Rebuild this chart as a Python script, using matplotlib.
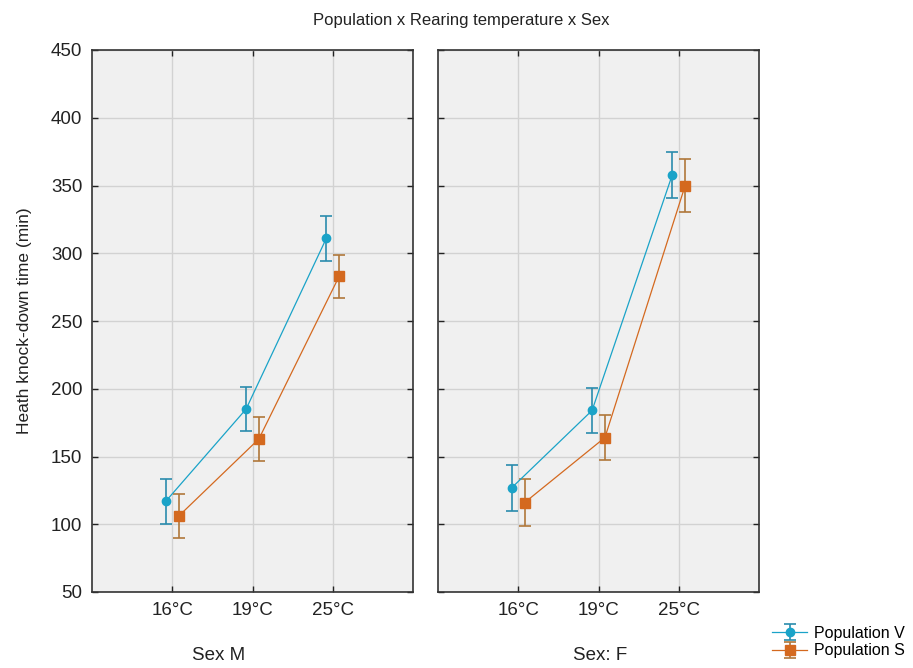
import matplotlib
matplotlib.use("Agg")
import matplotlib.pyplot as plt
import numpy as np

plt.rcParams['font.family'] = ['Liberation Sans', 'DejaVu Sans']

temps = ["16°C", "19°C", "25°C"]
panels = ["Sex M", "Sex: F"]
series = ["Population V", "Population S"]

# means per panel (M, F)
v_means = [[117, 185, 311], [127, 184, 358]]
s_means = [[106, 163, 283], [116, 164, 350]]
# half-widths of error bars
v_err = [[16.5, 16.5, 16.5], [17, 16.5, 17]]
s_err = [[16.5, 16.5, 16], [17.5, 16.5, 19.5]]

c_v = "#1aa3c8"
c_s = "#d4691f"
e_v = "#2a8cad"
e_s = "#b0773a"

fig = plt.figure(figsize=(9.13, 6.68), dpi=100)
W, H = 913, 668
rects = [(92, 50, 321, 542), (438, 50, 321, 542)]
x = np.arange(len(temps))
off = 0.08

handles = None
for i, (l, t, w, h) in enumerate(rects):
    ax = fig.add_axes([l / W, 1 - (t + h) / H, w / W, h / H])
    ax.set_facecolor("#f0f0f0")
    hv = ax.errorbar(x - off, v_means[i], yerr=v_err[i], fmt='-o', color=c_v, ecolor=e_v,
                     lw=0.9, elinewidth=1.2, capsize=4, capthick=1.2, markersize=6, zorder=4)
    hs = ax.errorbar(x + off, s_means[i], yerr=s_err[i], fmt='-s', color=c_s, ecolor=e_s,
                     lw=0.9, elinewidth=1.2, capsize=4, capthick=1.2, markersize=6.5, zorder=4)
    if handles is None:
        handles = [hv, hs]
    ax.set_xlim(-1, 3)
    ax.set_ylim(50, 450)
    ax.set_xticks(x)
    ax.set_xticklabels(temps, fontsize=13.5, color="#222222")
    ax.set_yticks(np.arange(50, 451, 50))
    ax.grid(True, color="#d2d2d2", lw=1.0)
    ax.set_axisbelow(True)
    ax.tick_params(direction='in', length=4, width=1, top=True, right=True,
                   labelsize=13.5, colors="#222222", pad=7)
    if i == 1:
        ax.tick_params(labelleft=False)
    for sp in ax.spines.values():
        sp.set_color("#333333")
        sp.set_linewidth(1.2)

fig.text(219 / W, 1 - 655 / H, panels[0], ha='center', va='center', fontsize=13.5, color="#222222")
fig.text(600 / W, 1 - 655 / H, panels[1], ha='center', va='center', fontsize=13.5, color="#222222")
fig.text(461 / W, 1 - 20 / H, "Population x Rearing temperature x Sex", ha='center', va='center',
         fontsize=12, color="#222222")
fig.text(25 / W, 1 - 321 / H, "Heath knock-down time (min)", rotation=90, ha='center', va='center',
         fontsize=12.5, color="#222222")

fig.legend(handles, series, loc='center left', bbox_to_anchor=(772 / W, 1 - 642 / H),
           frameon=False, fontsize=11.5, handlelength=2.2, handletextpad=0.4,
           labelspacing=0.15, borderpad=0, borderaxespad=0)

fig.savefig("out.png", dpi=100, facecolor="white")
